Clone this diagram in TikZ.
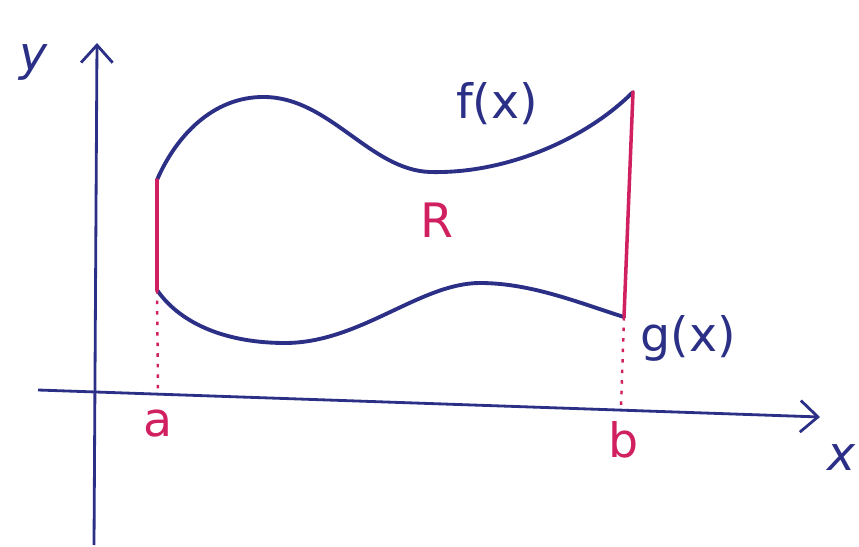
\documentclass[tikz,border=0pt]{standalone}
\usepackage{fontspec}
\setmainfont{DejaVu Sans}
\usetikzlibrary{arrows.meta}
\definecolor{ink}{HTML}{2B2F86}
\definecolor{pen}{HTML}{D02060}
\tikzset{
  axis/.style={ink, line width=1.6pt, -{Straight Barb[length=10pt,width=18pt,line width=1.6pt]}},
  curve/.style={ink, line width=2.2pt, line cap=round, line join=round},
  side/.style={pen, line width=2pt, line cap=round},
  dropline/.style={pen, line width=1.4pt, dash pattern=on 2pt off 4pt},
  lbl/.style={ink, font=\fontsize{27}{29}\selectfont},
  rlbl/.style={pen, font=\fontsize{27}{29}\selectfont}
}
\begin{document}
\begin{tikzpicture}[x=0.02cm, y=-0.02cm]
\useasboundingbox (0,0) rectangle (859,547);
% coordinates
\coordinate (yb) at (94,545);
\coordinate (yt) at (97,43);
\coordinate (xl) at (38,390);
\coordinate (xr) at (820,417);
\coordinate (A1) at (157,180);
\coordinate (A2) at (157,290);
\coordinate (A3) at (158,392);
\coordinate (B1) at (633,92);
\coordinate (B2) at (624,317);
\coordinate (B3) at (621,408);
% axes
\draw[axis] (yb) -- (yt);
\draw[axis] (xl) -- (xr);
% curves
\draw[curve] (A1) .. controls (175,138) and (212,96) .. (265,97)
  .. controls (330,98) and (370,170) .. (430,172)
  .. controls (505,174) and (585,140) .. (B1);
\draw[curve] (A2) .. controls (182,326) and (230,343) .. (285,343)
  .. controls (360,343) and (420,283) .. (480,283)
  .. controls (532,283) and (582,304) .. (B2);
% sides
\draw[side] (A1) -- (A2);
\draw[side] (B1) -- (B2);
\draw[dropline] (A2) -- (A3);
\draw[dropline] (B2) -- (B3);
% labels
\node[lbl] (ylab) at (34,62) {\itshape y};
\node[lbl] (xlab) at (842,458) {\itshape x};
\node[lbl] (flab) at (497,104) {f(x)};
\node[lbl] (glab) at (688,338) {g(x)};
\node[rlbl] (Rlab) at (437,220) {R};
\node[rlbl] (alab) at (158,424) {a};
\node[rlbl] (blab) at (624,440) {b};
\end{tikzpicture}
\end{document}
